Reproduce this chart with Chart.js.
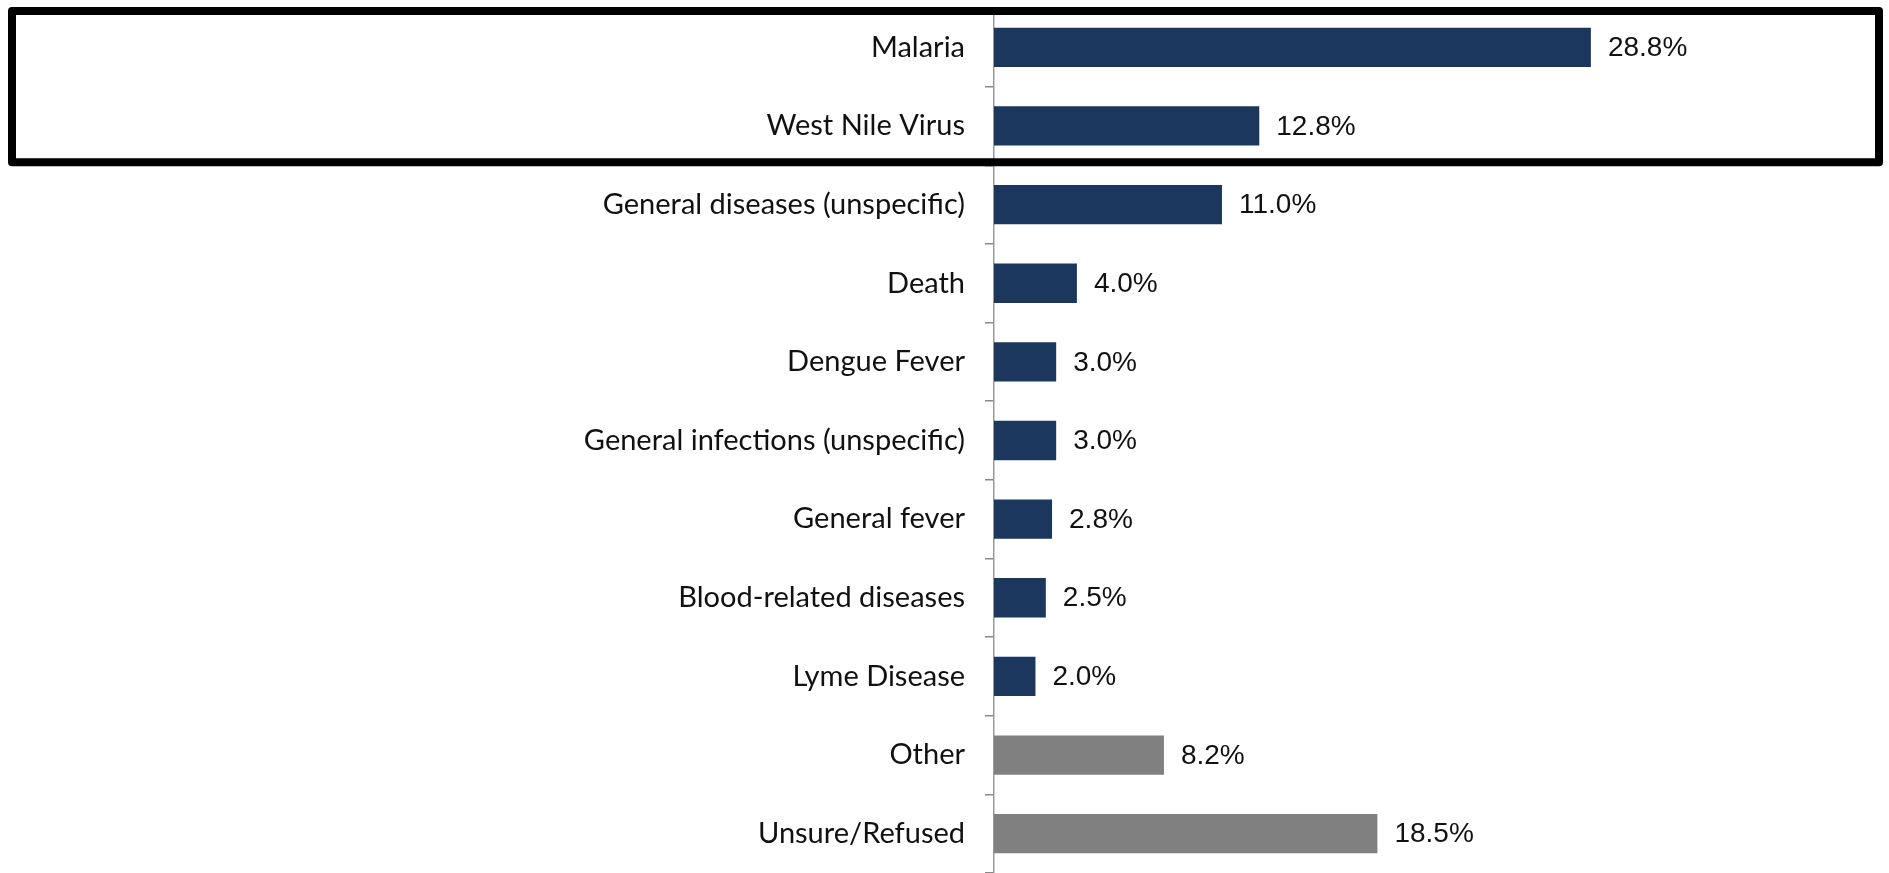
<!DOCTYPE html>
<html>
<head>
<meta charset="utf-8">
<script src="https://cdn.jsdelivr.net/npm/chart.js@4/dist/chart.umd.min.js"></script>
<style>
  html, body { margin: 0; padding: 0; background: #fff; overflow: hidden; }
  #wrap { width: 1889px; height: 873px; position: relative; }
</style>
</head>
<body>
<div id="wrap"><canvas id="chartCanvas"></canvas></div>
<script>
const categories = [
    'Malaria',
    'West Nile Virus',
    'General diseases (unspecific)',
    'Death',
    'Dengue Fever',
    'General infections (unspecific)',
    'General fever',
    'Blood-related diseases',
    'Lyme Disease',
    'Other',
    'Unsure/Refused'
];
const percentages = [28.8, 12.8, 11.0, 4.0, 3.0, 3.0, 2.8, 2.5, 2.0, 8.2, 18.5];
const otherCategories = ['Other', 'Unsure/Refused'];
const boxedCategories = ['Malaria', 'West Nile Virus'];

const NAVY = '#1b375e';
const GREY = '#808080';

// value labels at the end of each bar
const valueLabels = {
    id: 'valueLabels',
    afterDatasetsDraw(chart) {
        const ctx = chart.ctx;
        const meta = chart.getDatasetMeta(0);
        ctx.save();
        ctx.font = '28px "Liberation Sans", Arial, sans-serif';
        ctx.fillStyle = '#111';
        ctx.textAlign = 'left';
        ctx.textBaseline = 'middle';
        meta.data.forEach((bar, i) => {
            ctx.fillText(percentages[i].toFixed(1) + '%', bar.x + 17, bar.y + 1);
        });
        ctx.restore();
    }
};

// thick black frame round the first categories
const highlightBox = {
    id: 'highlightBox',
    afterDraw(chart) {
        const ctx = chart.ctx;
        const y = chart.scales.y;
        const first = y.getPixelForValue(0);
        const last = y.getPixelForValue(boxedCategories.length - 1);
        const half = (y.getPixelForValue(1) - first) / 2;
        ctx.save();
        ctx.strokeStyle = '#000';
        ctx.lineWidth = 8;
        ctx.lineJoin = 'round';
        ctx.strokeRect(12, first - half + 3, chart.width - 22, last - first + 2 * half - 6);
        ctx.restore();
    }
};

const ctx = document.getElementById('chartCanvas').getContext('2d');
const chart = new Chart(ctx, {
    type: 'bar',
    data: {
        labels: categories,
        datasets: [{
            data: percentages,
            backgroundColor: categories.map(c => otherCategories.includes(c) ? GREY : NAVY),
            borderWidth: 0,
            barPercentage: 0.5,
            categoryPercentage: 1.0
        }]
    },
    options: {
        indexAxis: 'y',
        responsive: true,
        maintainAspectRatio: false,
        animation: false,
        layout: { padding: { top: 8, right: 66, bottom: 0, left: 0 } },
        plugins: {
            legend: { display: false },
            tooltip: { enabled: false }
        },
        scales: {
            x: {
                display: false,
                min: 0,
                max: 40
            },
            y: {
                afterFit(scale) {
                    scale.width = 994;
                    scale.paddingTop = 0;
                    scale.paddingBottom = 0;
                },
                border: { display: true, color: '#999', width: 1.5 },
                grid: {
                    offset: true,
                    drawOnChartArea: false,
                    drawTicks: true,
                    tickLength: 9,
                    color: '#888',
                    lineWidth: 1.5
                },
                ticks: {
                    color: '#111',
                    padding: 20,
                    font: { family: 'Lato, "Open Sans", sans-serif', size: 29 }
                }
            }
        }
    },
    plugins: [valueLabels, highlightBox]
});
</script>
</body>
</html>
